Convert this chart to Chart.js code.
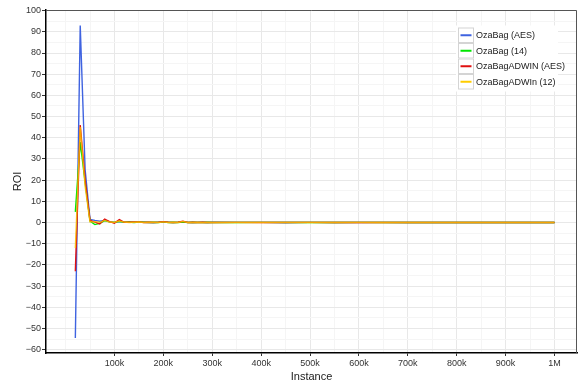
<!DOCTYPE html>
<html>
<head>
<meta charset="utf-8">
<script src="https://cdn.jsdelivr.net/npm/chart.js@4/dist/chart.umd.min.js"></script>
<style>
  html, body { margin: 0; padding: 0; background: #fff; }
  #wrap { width: 580px; height: 382px; position: relative; }
</style>
</head>
<body>
<div id="wrap"><canvas id="c"></canvas></div>
<script>
// Processed instances (x) and ROI per classifier (y)
const instances = [
  20000, 30000, 40000, 50000, 60000, 70000, 80000, 90000, 100000, 110000,
  120000, 130000, 140000, 150000, 160000, 170000, 180000, 190000, 200000, 210000,
  220000, 230000, 240000, 250000, 260000, 270000, 280000, 290000, 300000,
  350000, 400000, 450000, 500000, 550000, 600000, 650000, 700000, 750000, 800000,
  850000, 900000, 950000, 1000000
];
const ozaBagAES = [
  -54.5, 93, 25, 1.5, 1.0, 0.6, 1.0, 0.3, 0.1, 0.5,
  0.2, 0.1, 0.1, 0.3, 0.1, 0.1, 0.0, 0.1, 0.2, 0.1,
  0.0, 0.1, 0.3, 0.1, 0.0, 0.1, 0.1, 0.0, 0.1,
  0.05, 0.05, 0.0, 0.05, 0.0, 0.0, 0.05, 0.0, 0.0, 0.0,
  0.0, 0.0, 0.0, 0.0
];
const ozaBag14 = [
  5, 38, 19, 0.6, -1.0, -0.4, 0.9, 0.3, 0.0, 0.6,
  0.1, 0.2, 0.0, 0.2, 0.1, 0.0, 0.1, 0.0, 0.3, 0.0,
  0.1, 0.0, 0.2, 0.0, 0.1, 0.0, 0.0, 0.1, 0.0,
  0.0, 0.05, 0.0, 0.0, 0.0, 0.05, 0.0, 0.0, 0.0, 0.0,
  0.0, 0.0, 0.0, 0.0
];
const ozaBagAdwinAES = [
  -23, 46, 20, 1.0, 0.2, -0.7, 1.6, 0.4, -0.3, 1.4,
  0.1, 0.1, 0.2, 0.3, 0.0, 0.1, 0.0, 0.1, 0.4, 0.1,
  0.0, 0.1, 0.6, 0.0, 0.1, 0.0, 0.1, 0.0, 0.0,
  0.05, 0.0, 0.0, 0.05, 0.0, 0.0, 0.0, 0.0, 0.0, 0.0,
  0.0, 0.0, 0.0, 0.0
];
const ozaBagAdwin12 = [
  -12, 45, 17, 0.2, 0.4, 0.1, 1.0, 0.2, 0.1, 0.7,
  0.2, 0.0, 0.1, 0.2, 0.0, 0.1, 0.1, 0.0, 0.3, 0.0,
  0.1, 0.0, 0.5, 0.0, 0.0, 0.1, 0.0, 0.0, 0.0,
  0.0, 0.0, 0.05, 0.0, 0.0, 0.0, 0.0, 0.0, 0.0, 0.0,
  0.0, 0.0, 0.0, 0.0
];
const seriesLabels = ['OzaBag (AES)', 'OzaBag (14)', 'OzaBagADWIN (AES)', 'OzaBagADWIn (12)'];
const seriesColors = ['#3f63e0', '#00e600', '#e01010', '#ffcc00'];
// stroke colours on the plot: the gold line is slightly see-through so the red under it tints it
const strokeColors = ['#3f63e0', '#00e600', '#e01010', 'rgba(250,196,0,0.82)'];

// Axis breaks and their labels
const xTickValues = [100000, 200000, 300000, 400000, 500000, 600000, 700000, 800000, 900000, 1000000];
const xTickLabels = ['100k', '200k', '300k', '400k', '500k', '600k', '700k', '800k', '900k', '1M'];
const xMinorGrid = [0, 50000, 150000, 250000, 350000, 450000, 550000, 650000, 750000, 850000, 950000];
const yTickValues = [-60, -50, -40, -30, -20, -10, 0, 10, 20, 30, 40, 50, 60, 70, 80, 90, 100];
const yTickLabels = ['\u221260', '\u221250', '\u221240', '\u221230', '\u221220', '\u221210', '0', '10', '20', '30', '40', '50', '60', '70', '80', '90', '100'];
const yMinorGrid = [-55, -45, -35, -25, -15, -5, 5, 15, 25, 35, 45, 55, 65, 75, 85, 95];

const FONT = "'Liberation Sans', Arial, sans-serif";

function pairs(ys) { return instances.map((x, i) => ({ x: x, y: ys[i] })); }
const seriesValues = [ozaBagAES, ozaBag14, ozaBagAdwinAES, ozaBagAdwin12];

const datasets = seriesValues.map((vals, i) => ({
  label: seriesLabels[i],
  data: pairs(vals),
  borderColor: strokeColors[i],
  backgroundColor: seriesColors[i],
  borderWidth: 1.4,
  pointRadius: 0,
  tension: 0,
  fill: false,
  order: seriesValues.length - i
}));

const isMajor = (list, v) => list.indexOf(v) >= 0;

const panelDecor = {
  id: 'panelDecor',
  beforeDraw(chart) {
    const ctx = chart.ctx;
    ctx.save();
    ctx.fillStyle = '#ffffff';
    ctx.fillRect(0, 0, chart.width, chart.height);
    ctx.restore();
  },
  afterDraw(chart) {
    const { ctx, chartArea: a } = chart;
    ctx.save();
    // top and right panel border
    ctx.strokeStyle = '#555555';
    ctx.lineWidth = 1;
    ctx.beginPath();
    ctx.moveTo(a.left, a.top + 0.5);
    ctx.lineTo(a.right - 0.5, a.top + 0.5);
    ctx.lineTo(a.right - 0.5, a.bottom);
    ctx.stroke();

    // legend with boxed keys
    const lx = 458, ly = 27.5, kw = 16, kh = 15.5;
    ctx.fillStyle = '#ffffff';
    ctx.fillRect(lx - 2, ly - 2, 102, kh * 4 + 4);
    chart.data.datasets.forEach((ds, i) => {
      const y0 = ly + i * kh;
      ctx.fillStyle = '#ffffff';
      ctx.fillRect(lx, y0, kw, kh);
      ctx.strokeStyle = '#d4d4d4';
      ctx.lineWidth = 1;
      ctx.strokeRect(lx + 0.5, y0 + 0.5, kw - 1, kh - 1);
      ctx.strokeStyle = seriesColors[i];
      ctx.lineWidth = 2;
      ctx.beginPath();
      ctx.moveTo(lx + 2.5, y0 + kh / 2);
      ctx.lineTo(lx + kw - 2.5, y0 + kh / 2);
      ctx.stroke();
      ctx.fillStyle = '#1a1a1a';
      ctx.font = '9px ' + FONT;
      ctx.textAlign = 'left';
      ctx.textBaseline = 'middle';
      ctx.fillText(ds.label, lx + kw + 2, y0 + kh / 2 + 0.5);
    });
    ctx.restore();
  }
};

new Chart(document.getElementById('c'), {
  type: 'line',
  data: { datasets: datasets },
  options: {
    responsive: true,
    maintainAspectRatio: false,
    animation: false,
    devicePixelRatio: 1,
    layout: { padding: { top: 10, right: 3, left: 0, bottom: 0 } },
    plugins: { legend: { display: false }, tooltip: { enabled: false } },
    scales: {
      x: {
        type: 'linear',
        min: -40000,
        max: 1046000,
        afterBuildTicks: s => { s.ticks = xMinorGrid.concat(xTickValues).sort((a, b) => a - b).map(v => ({ value: v })); },
        afterFit: s => { s.height = 29; },
        ticks: {
          autoSkip: false,
          maxRotation: 0,
          padding: 2,
          color: '#333333',
          font: { family: FONT, size: 9 },
          callback: v => { const k = xTickValues.indexOf(v); return k >= 0 ? xTickLabels[k] : ''; }
        },
        grid: {
          color: c => isMajor(xTickValues, c.tick && c.tick.value) ? '#e8e8e8' : '#f5f5f5',
          lineWidth: 1,
          tickLength: 3,
          tickColor: c => isMajor(xTickValues, c.tick && c.tick.value) ? '#333333' : 'rgba(0,0,0,0)'
        },
        border: { color: '#000000', width: 1.5 },
        title: {
          display: true,
          text: 'Instance',
          color: '#1a1a1a',
          font: { family: FONT, size: 11, lineHeight: 1 },
          padding: { top: 0, bottom: 0 }
        }
      },
      y: {
        type: 'linear',
        min: -61.6,
        max: 100.3,
        afterBuildTicks: s => { s.ticks = yMinorGrid.concat(yTickValues).sort((a, b) => a - b).map(v => ({ value: v })); },
        afterFit: s => { s.width = 46; },
        ticks: {
          autoSkip: false,
          padding: 1,
          color: '#333333',
          font: { family: FONT, size: 9 },
          callback: v => { const k = yTickValues.indexOf(v); return k >= 0 ? yTickLabels[k] : ''; }
        },
        grid: {
          color: c => isMajor(yTickValues, c.tick && c.tick.value) ? '#e8e8e8' : '#f5f5f5',
          lineWidth: 1,
          tickLength: 4,
          tickColor: c => isMajor(yTickValues, c.tick && c.tick.value) ? '#333333' : 'rgba(0,0,0,0)'
        },
        border: { color: '#000000', width: 1.5 },
        title: {
          display: true,
          text: 'ROI',
          color: '#1a1a1a',
          font: { family: FONT, size: 11, lineHeight: 1.2 },
          padding: { top: 11, bottom: 0 }
        }
      }
    }
  },
  plugins: [panelDecor]
});
</script>
</body>
</html>
